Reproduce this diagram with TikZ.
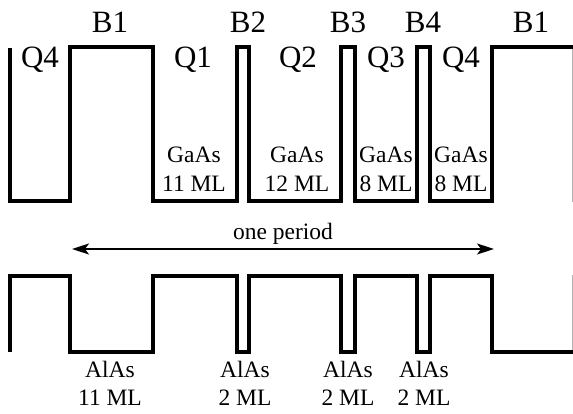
\documentclass[tikz,border=0pt]{standalone}
\usepackage{fontspec}
\setmainfont{Liberation Serif}
\usetikzlibrary{arrows.meta}
\begin{document}
\begin{tikzpicture}[x=1pt,y=-1pt,
  profile/.style={line width=3.2pt, line join=miter, line cap=butt},
  edgeline/.style={gray!60, line width=1pt},
  big/.style={font=\fontsize{31}{31}\selectfont, inner sep=0pt, anchor=base},
  small/.style={font=\fontsize{23.5}{23.5}\selectfont, inner sep=0pt, anchor=base},
  periodarrow/.style={line width=1.3pt, {Stealth[length=17pt,width=11pt,inset=4pt]}-{Stealth[length=17pt,width=11pt,inset=4pt]}}]
\useasboundingbox (0,0) rectangle (573,414);
% right edge lines
\draw[edgeline] (572.3,47) -- (572.3,202);
\draw[edgeline] (572.3,275) -- (572.3,352);
% top profile
\draw[profile] (10,48) -- (10,201) -- (70,201) -- (70,47) -- (153,47) -- (153,201) -- (237,201) -- (237,47) -- (249,47) -- (249,201) -- (341,201) -- (341,47) -- (355,47) -- (355,201) -- (417,201) -- (417,47) -- (430,47) -- (430,201) -- (492,201) -- (492,47) -- (573,47);
% bottom profile
\draw[profile] (10,352) -- (10,276) -- (70,276) -- (70,352) -- (153,352) -- (153,276) -- (237,276) -- (237,352) -- (249,352) -- (249,276) -- (341,276) -- (341,352) -- (355,352) -- (355,276) -- (417,276) -- (417,352) -- (430,352) -- (430,276) -- (492,276) -- (492,352) -- (573,352);
% barrier labels
\node[big] (b1a) at (110,33) {B1};
\node[big] (b2) at (248,33) {B2};
\node[big] (b3) at (348,33) {B3};
\node[big] (b4) at (423,33) {B4};
\node[big] (b1b) at (531,33) {B1};
% well labels
\node[big] (q4a) at (40,68) {Q4};
\node[big] (q1) at (193,68) {Q1};
\node[big] (q2) at (298,68) {Q2};
\node[big] (q3) at (386,68) {Q3};
\node[big] (q4b) at (461,68) {Q4};
% GaAs
\node[small] (g1) at (194,163) {GaAs};
\node[small] (g1n) at (194,192) {11 ML};
\node[small] (g2) at (297,163) {GaAs};
\node[small] (g2n) at (297,192) {12 ML};
\node[small] (g3) at (386,163) {GaAs};
\node[small] (g3n) at (386,192) {8 ML};
\node[small] (g4) at (461,163) {GaAs};
\node[small] (g4n) at (461,192) {8 ML};
% period
\node[small] (per) at (283,240) {one period};
\coordinate (pl) at (72,249);
\coordinate (pr) at (494,249);
\draw[periodarrow] (pl) -- (pr);
% AlAs
\node[small] (a1) at (110,377) {AlAs};
\node[small] (a1n) at (110,405) {11 ML};
\node[small] (a2) at (245,377) {AlAs};
\node[small] (a2n) at (245,405) {2 ML};
\node[small] (a3) at (348,377) {AlAs};
\node[small] (a3n) at (348,405) {2 ML};
\node[small] (a4) at (424,377) {AlAs};
\node[small] (a4n) at (424,405) {2 ML};
\end{tikzpicture}
\end{document}
